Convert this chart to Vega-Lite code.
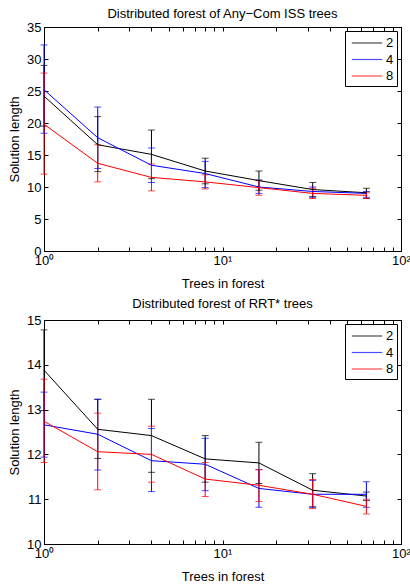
{
  "$schema": "https://vega.github.io/schema/vega-lite/v6.json",
  "padding": {"left": 8, "top": 7, "right": 0, "bottom": 2},
  "background": "white",
  "datasets": {
    "d": [
      {"p": "a", "s": "2", "trees": 1, "mean": 24.2, "lo": 19.5, "hi": 29.0},
      {"p": "a", "s": "2", "trees": 2, "mean": 16.6, "lo": 12.4, "hi": 21.0},
      {"p": "a", "s": "2", "trees": 4, "mean": 15.1, "lo": 11.3, "hi": 18.9},
      {"p": "a", "s": "2", "trees": 8, "mean": 12.5, "lo": 10.5, "hi": 14.5},
      {"p": "a", "s": "2", "trees": 16, "mean": 11.0, "lo": 9.5, "hi": 12.5},
      {"p": "a", "s": "2", "trees": 32, "mean": 9.6, "lo": 8.5, "hi": 10.7},
      {"p": "a", "s": "2", "trees": 64, "mean": 9.1, "lo": 8.2, "hi": 9.8},
      {"p": "a", "s": "4", "trees": 1, "mean": 25.2, "lo": 18.4, "hi": 32.2},
      {"p": "a", "s": "4", "trees": 2, "mean": 17.7, "lo": 12.9, "hi": 22.5},
      {"p": "a", "s": "4", "trees": 4, "mean": 13.4, "lo": 10.7, "hi": 16.1},
      {"p": "a", "s": "4", "trees": 8, "mean": 12.1, "lo": 9.9, "hi": 14.0},
      {"p": "a", "s": "4", "trees": 16, "mean": 10.0, "lo": 9.0, "hi": 11.1},
      {"p": "a", "s": "4", "trees": 32, "mean": 9.3, "lo": 8.4, "hi": 10.0},
      {"p": "a", "s": "4", "trees": 64, "mean": 9.0, "lo": 8.4, "hi": 9.3},
      {"p": "a", "s": "8", "trees": 1, "mean": 19.8, "lo": 12.0, "hi": 27.8},
      {"p": "a", "s": "8", "trees": 2, "mean": 13.7, "lo": 10.8, "hi": 16.6},
      {"p": "a", "s": "8", "trees": 4, "mean": 11.5, "lo": 9.4, "hi": 13.6},
      {"p": "a", "s": "8", "trees": 8, "mean": 10.8, "lo": 9.7, "hi": 11.9},
      {"p": "a", "s": "8", "trees": 16, "mean": 9.9, "lo": 8.7, "hi": 11.0},
      {"p": "a", "s": "8", "trees": 32, "mean": 9.0, "lo": 8.2, "hi": 9.8},
      {"p": "a", "s": "8", "trees": 64, "mean": 8.7, "lo": 8.2, "hi": 9.1},
      {"p": "b", "s": "2", "trees": 1, "mean": 13.88, "lo": 12.98, "hi": 14.78},
      {"p": "b", "s": "2", "trees": 2, "mean": 12.56, "lo": 11.91, "hi": 13.23},
      {"p": "b", "s": "2", "trees": 4, "mean": 12.42, "lo": 11.6, "hi": 13.23},
      {"p": "b", "s": "2", "trees": 8, "mean": 11.9, "lo": 11.38, "hi": 12.42},
      {"p": "b", "s": "2", "trees": 16, "mean": 11.81, "lo": 11.35, "hi": 12.27},
      {"p": "b", "s": "2", "trees": 32, "mean": 11.2, "lo": 10.83, "hi": 11.57},
      {"p": "b", "s": "2", "trees": 64, "mean": 11.07, "lo": 10.97, "hi": 11.16},
      {"p": "b", "s": "4", "trees": 1, "mean": 12.66, "lo": 11.94, "hi": 13.39},
      {"p": "b", "s": "4", "trees": 2, "mean": 12.45, "lo": 11.65, "hi": 13.23},
      {"p": "b", "s": "4", "trees": 4, "mean": 11.86, "lo": 11.17, "hi": 12.58},
      {"p": "b", "s": "4", "trees": 8, "mean": 11.78, "lo": 11.19, "hi": 12.36},
      {"p": "b", "s": "4", "trees": 16, "mean": 11.24, "lo": 10.82, "hi": 11.66},
      {"p": "b", "s": "4", "trees": 32, "mean": 11.11, "lo": 10.82, "hi": 11.42},
      {"p": "b", "s": "4", "trees": 64, "mean": 11.11, "lo": 10.82, "hi": 11.39},
      {"p": "b", "s": "8", "trees": 1, "mean": 12.74, "lo": 11.82, "hi": 13.68},
      {"p": "b", "s": "8", "trees": 2, "mean": 12.06, "lo": 11.21, "hi": 12.92},
      {"p": "b", "s": "8", "trees": 4, "mean": 12.0, "lo": 11.38, "hi": 12.63},
      {"p": "b", "s": "8", "trees": 8, "mean": 11.45, "lo": 11.06, "hi": 11.82},
      {"p": "b", "s": "8", "trees": 16, "mean": 11.31, "lo": 10.95, "hi": 11.66},
      {"p": "b", "s": "8", "trees": 32, "mean": 11.11, "lo": 10.79, "hi": 11.44},
      {"p": "b", "s": "8", "trees": 64, "mean": 10.84, "lo": 10.67, "hi": 11.0}
    ]
  },
  "data": {"name": "d"},
  "spacing": 6,
  "vconcat": [
    {
      "width": 357,
      "height": 224,
      "title": {"text": "Distributed forest of Any−Com ISS trees", "offset": 0},
      "transform": [{"filter": "datum.p == 'a'"}],
      "resolve": {"axis": {"x": "independent", "y": "independent"}},
      "layer": [
        {
          "mark": {"type": "rule", "strokeWidth": 1, "clip": false},
          "encoding": {
            "x": {"field": "trees", "type": "quantitative", "scale": {"type": "log", "domain": [1, 100], "nice": false},
              "axis": {"orient": "bottom", "title": "Trees in forest", "values": [1,2,3,4,5,6,7,8,9,10,20,30,40,50,60,70,80,90,100],
                "labelExpr": "datum.value == 1 ? '10⁰' : datum.value == 10 ? '10¹' : datum.value == 100 ? '10²' : ''"}},
            "y": {"field": "lo", "type": "quantitative", "scale": {"domain": [0, 35], "nice": false},
              "axis": {"orient": "left", "title": "Solution length", "values": [0,5,10,15,20,25,30,35]}},
            "y2": {"field": "hi"},
            "color": {"field": "s", "type": "nominal", "scale": {"domain": ["2","4","8"], "range": ["#000000","#0000ff","#ff0000"]}}
          }
        },
        {
          "mark": {"type": "tick", "orient": "horizontal", "size": 7, "thickness": 1, "clip": false},
          "encoding": {
            "x": {"field": "trees", "type": "quantitative",
              "axis": {"orient": "top", "title": null, "labels": false, "values": [1,2,3,4,5,6,7,8,9,10,20,30,40,50,60,70,80,90,100]}},
            "y": {"field": "lo", "type": "quantitative",
              "axis": {"orient": "right", "title": null, "labels": false, "values": [0,5,10,15,20,25,30,35]}},
            "color": {"field": "s", "type": "nominal"}
          }
        },
        {
          "mark": {"type": "tick", "orient": "horizontal", "size": 7, "thickness": 1, "clip": false},
          "encoding": {
            "x": {"field": "trees", "type": "quantitative", "axis": null},
            "y": {"field": "hi", "type": "quantitative", "axis": null},
            "color": {"field": "s", "type": "nominal"}
          }
        },
        {
          "mark": {"type": "line", "strokeWidth": 1},
          "encoding": {
            "x": {"field": "trees", "type": "quantitative", "axis": null},
            "y": {"field": "mean", "type": "quantitative", "axis": null},
            "color": {"field": "s", "type": "nominal",
              "legend": {"title": null, "orient": "top-right", "offset": 4, "symbolType": "M-1.9,0H1.9", "symbolSize": 256, "symbolStrokeWidth": 1.2,
                "symbolOffset": 10, "labelOffset": 10, "fillColor": "white", "strokeColor": "black", "padding": 3, "labelFontSize": 13, "rowPadding": 0.5}}
          }
        }
      ]
    },
    {
      "width": 357,
      "height": 224,
      "title": {"text": "Distributed forest of RRT* trees", "offset": 3},
      "transform": [{"filter": "datum.p == 'b'"}],
      "resolve": {"axis": {"x": "independent", "y": "independent"}},
      "layer": [
        {
          "mark": {"type": "rule", "strokeWidth": 1, "clip": false},
          "encoding": {
            "x": {"field": "trees", "type": "quantitative", "scale": {"type": "log", "domain": [1, 100], "nice": false},
              "axis": {"orient": "bottom", "title": "Trees in forest", "values": [1,2,3,4,5,6,7,8,9,10,20,30,40,50,60,70,80,90,100],
                "labelExpr": "datum.value == 1 ? '10⁰' : datum.value == 10 ? '10¹' : datum.value == 100 ? '10²' : ''"}},
            "y": {"field": "lo", "type": "quantitative", "scale": {"domain": [10, 15], "nice": false},
              "axis": {"orient": "left", "title": "Solution length", "values": [10,11,12,13,14,15]}},
            "y2": {"field": "hi"},
            "color": {"field": "s", "type": "nominal", "scale": {"domain": ["2","4","8"], "range": ["#000000","#0000ff","#ff0000"]}}
          }
        },
        {
          "mark": {"type": "tick", "orient": "horizontal", "size": 7, "thickness": 1, "clip": false},
          "encoding": {
            "x": {"field": "trees", "type": "quantitative",
              "axis": {"orient": "top", "title": null, "labels": false, "values": [1,2,3,4,5,6,7,8,9,10,20,30,40,50,60,70,80,90,100]}},
            "y": {"field": "lo", "type": "quantitative",
              "axis": {"orient": "right", "title": null, "labels": false, "values": [10,11,12,13,14,15]}},
            "color": {"field": "s", "type": "nominal"}
          }
        },
        {
          "mark": {"type": "tick", "orient": "horizontal", "size": 7, "thickness": 1, "clip": false},
          "encoding": {
            "x": {"field": "trees", "type": "quantitative", "axis": null},
            "y": {"field": "hi", "type": "quantitative", "axis": null},
            "color": {"field": "s", "type": "nominal"}
          }
        },
        {
          "mark": {"type": "line", "strokeWidth": 1},
          "encoding": {
            "x": {"field": "trees", "type": "quantitative", "axis": null},
            "y": {"field": "mean", "type": "quantitative", "axis": null},
            "color": {"field": "s", "type": "nominal",
              "legend": {"title": null, "orient": "top-right", "offset": 4, "symbolType": "M-1.9,0H1.9", "symbolSize": 256, "symbolStrokeWidth": 1.2,
                "symbolOffset": 10, "labelOffset": 10, "fillColor": "white", "strokeColor": "black", "padding": 3, "labelFontSize": 13, "rowPadding": 0.5}}
          }
        }
      ]
    }
  ],
  "resolve": {"legend": {"color": "independent"}},
  "config": {
    "font": "Liberation Sans",
    "view": {"stroke": "black", "strokeWidth": 1},
    "title": {"fontSize": 13, "fontWeight": "normal", "color": "black"},
    "axis": {
      "grid": false, "domainColor": "black", "tickColor": "black", "labelColor": "black", "titleColor": "black",
      "labelFontSize": 13, "titleFontSize": 13, "titleFontWeight": "normal", "tickSize": -4, "labelPadding": 7,
      "labelOverlap": false, "labelFlush": false
    },
    "axisX": {"titlePadding": 10},
    "axisY": {"titlePadding": 5}
  }
}
